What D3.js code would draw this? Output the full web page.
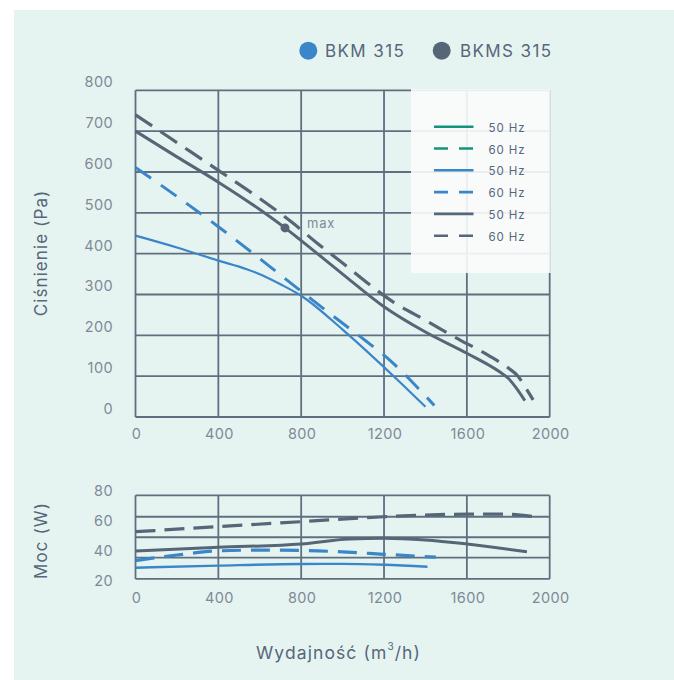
<!DOCTYPE html>
<html><head><meta charset="utf-8">
<script src="https://cdn.jsdelivr.net/npm/d3@7"></script>
<style>
html,body{margin:0;padding:0;background:#fff;}
text{font-family:Inter,"Noto Sans",sans-serif;}
</style></head>
<body>
<svg id="c" width="674" height="680"></svg>
<script>
// ---- data ----
const xTicks = [0, 400, 800, 1200, 1600, 2000];
const pressureTicks = [0, 100, 200, 300, 400, 500, 600, 700, 800];
const powerTicks = [20, 40, 60, 80];
const powerGrid = [20.7, 34.9, 48.6, 62.3, 76.6];

const bkm50Pressure = [[0,444],[200,415],[400,383],[537,362],[617,346],[700,325],[800,297],[1000,214],[1200,122],[1300,74],[1400,25]];
const bkm60Pressure = [[0,611],[200,540],[400,466],[577,397],[712,343],[843,291],[978,238],[1108,188],[1237,135],[1358,74],[1443,28]];
const bkms50Pressure = [[0,700],[200,637],[400,575],[600,508],[722,463],[800,432],[1000,350],[1200,270],[1400,208],[1600,156],[1760,110],[1800,95],[1840,70],[1880,40]];
const bkms60Pressure = [[0,740],[200,672],[400,604],[600,535],[760,475],[876,426],[1000,377],[1120,328],[1240,283],[1400,237],[1540,196],[1700,152],[1800,120],[1847,100],[1886,70],[1920,42]];
const maxPoint = [722, 463];

const bkm50Power = [[0,28.2],[400,29.6],[800,30.7],[1000,30.8],[1200,30.2],[1410,28.9]];
const bkm60Power = [[0,33],[200,36.7],[400,39.5],[600,40],[800,39.8],[1000,38.8],[1200,37.2],[1450,35.3]];
const bkms50Power = [[0,39.4],[400,41.9],[800,44.1],[1034,47.4],[1200,47.9],[1398,46.8],[1600,44.1],[1890,38.9]];
const bkms60Power = [[0,52.3],[400,55.7],[800,59],[1200,62.3],[1600,64],[1800,64],[1930,62.3]];

const seriesNames = ["BKM 315", "BKMS 315"];
const legendItems = [
  {label:"50 Hz", color:"#13957c", dash:null},
  {label:"60 Hz", color:"#13957c", dash:"14,11"},
  {label:"50 Hz", color:"#3a86c8", dash:null},
  {label:"60 Hz", color:"#3a86c8", dash:"14,11"},
  {label:"50 Hz", color:"#56677a", dash:null},
  {label:"60 Hz", color:"#56677a", dash:"14,11"}
];

// ---- styles ----
const BLUE = "#3a86c8", DARK = "#566677", GRID = "#5f6f80", TICK = "#7d8a97", TITLE = "#56677a";

const svg = d3.select("#c");
svg.append("rect").attr("x",14).attr("y",10).attr("width",660).attr("height",670).attr("fill","#e6f4f1");

const x = d3.scaleLinear().domain([0,2000]).range([135.5,549.7]);
const yP = d3.scaleLinear().domain([0,800]).range([417,90.3]);
const yW = d3.scaleLinear().domain([20,80]).range([580,490.3]);

// --- top grid ---
const gTop = svg.append("g");
gTop.selectAll("line.v").data(xTicks).join("line")
  .attr("x1",d=>x(d)).attr("x2",d=>x(d)).attr("y1",yP(800)).attr("y2",yP(0))
  .attr("stroke",GRID).attr("stroke-width",1.8);
gTop.selectAll("line.h").data(pressureTicks).join("line")
  .attr("y1",d=>yP(d)).attr("y2",d=>yP(d)).attr("x1",x(0)).attr("x2",x(2000))
  .attr("stroke",GRID).attr("stroke-width",1.8);

// legend box over grid
svg.append("rect").attr("x",411).attr("y",89).attr("width",x(2000)-411+1).attr("height",184)
  .attr("fill","#fbfcfc").attr("opacity",0.9);

// y ticks
svg.append("g").selectAll("text").data(pressureTicks).join("text")
  .attr("x",113).attr("y",d=>yP(d)-8.5).attr("text-anchor","end").attr("dominant-baseline","central")
  .attr("font-size",14.5).attr("letter-spacing",0.4).attr("fill",TICK).text(d=>d);
svg.append("g").selectAll("text").data(xTicks).join("text")
  .attr("x",d=>x(d)+1).attr("y",433.5).attr("text-anchor","middle").attr("dominant-baseline","central")
  .attr("font-size",14.5).attr("letter-spacing",0.4).attr("fill",TICK).text(d=>d);

const line = d3.line().x(d=>x(d[0])).y(d=>yP(d[1])).curve(d3.curveMonotoneX);
const lineW = d3.line().x(d=>x(d[0])).y(d=>yW(d[1])).curve(d3.curveMonotoneX);

function draw(gen, data, color, w, dash){
  const p = svg.append("path").attr("d",gen(data)).attr("fill","none").attr("stroke",color)
    .attr("stroke-width",w).attr("stroke-linejoin","round");
  if(dash) p.attr("stroke-dasharray",dash);
  return p;
}
draw(line, bkm50Pressure, BLUE, 2.2, null);
draw(line, bkm60Pressure, BLUE, 3, "19,12");
draw(line, bkms50Pressure, DARK, 3, null);
draw(line, bkms60Pressure, DARK, 3.2, "20,10");

svg.append("circle").attr("cx",x(maxPoint[0])).attr("cy",yP(maxPoint[1])).attr("r",4.5).attr("fill",DARK);
svg.append("text").attr("x",x(maxPoint[0])+22).attr("y",yP(maxPoint[1])-5).attr("dominant-baseline","central")
  .attr("font-size",13).attr("letter-spacing",0.8).attr("fill",TICK).text("max");

// legend entries
const lg = svg.append("g");
legendItems.forEach((d,i)=>{
  const yy = 126.7 + i*21.8;
  const l = lg.append("line").attr("x1",434).attr("x2",473.5).attr("y1",yy).attr("y2",yy)
    .attr("stroke",d.color).attr("stroke-width",2.6);
  if(d.dash) l.attr("stroke-dasharray",d.dash);
  lg.append("text").attr("x",488.5).attr("y",yy+1).attr("dominant-baseline","central")
    .attr("font-size",11.5).attr("letter-spacing",0.9).attr("fill",TITLE).text(d.label);
});

// top legend
const tl = svg.append("g");
[[308.3,BLUE,325],[441.7,DARK,460]].forEach((d,i)=>{
  tl.append("circle").attr("cx",d[0]).attr("cy",50.7).attr("r",9).attr("fill",d[1]);
  tl.append("text").attr("x",d[2]).attr("y",51).attr("dominant-baseline","central")
    .attr("font-size",17).attr("letter-spacing",1.4).attr("fill",TITLE).text(seriesNames[i]);
});

// axis titles
svg.append("text").attr("transform","translate(41,253) rotate(-90)").attr("text-anchor","middle")
  .attr("dominant-baseline","central").attr("font-size",17).attr("letter-spacing",1.1).attr("fill",TITLE).text("Ciśnienie (Pa)");
svg.append("text").attr("transform","translate(41,540.5) rotate(-90)").attr("text-anchor","middle")
  .attr("dominant-baseline","central").attr("font-size",17).attr("letter-spacing",1.1).attr("fill",TITLE).text("Moc (W)");
const xt = svg.append("text").attr("x",338.5).attr("y",652).attr("text-anchor","middle")
  .attr("dominant-baseline","central").attr("font-size",17.5).attr("letter-spacing",1.1).attr("fill",TITLE);
xt.append("tspan").text("Wydajność (m");
xt.append("tspan").attr("font-size",10).attr("dy",-6).text("3");
xt.append("tspan").attr("dy",6).text("/h)");

// --- power chart ---
const gB = svg.append("g");
gB.selectAll("line.v").data(xTicks).join("line")
  .attr("x1",d=>x(d)).attr("x2",d=>x(d)).attr("y1",yW(powerGrid[4])).attr("y2",yW(powerGrid[0]))
  .attr("stroke",GRID).attr("stroke-width",1.8);
gB.selectAll("line.h").data(powerGrid).join("line")
  .attr("y1",d=>yW(d)).attr("y2",d=>yW(d)).attr("x1",x(0)).attr("x2",x(2000))
  .attr("stroke",GRID).attr("stroke-width",1.8);
svg.append("g").selectAll("text").data(powerTicks).join("text")
  .attr("x",113).attr("y",d=>yW(d)).attr("text-anchor","end").attr("dominant-baseline","central")
  .attr("font-size",14.5).attr("letter-spacing",0.4).attr("fill",TICK).text(d=>d);
svg.append("g").selectAll("text").data(xTicks).join("text")
  .attr("x",d=>x(d)+1).attr("y",597).attr("text-anchor","middle").attr("dominant-baseline","central")
  .attr("font-size",14.5).attr("letter-spacing",0.4).attr("fill",TICK).text(d=>d);

draw(lineW, bkm50Power, BLUE, 2.4, null);
draw(lineW, bkm60Power, BLUE, 3.2, "19,10");
draw(lineW, bkms50Power, DARK, 3, null);
draw(lineW, bkms60Power, DARK, 3.2, "20,9");
</script>
</body></html>
